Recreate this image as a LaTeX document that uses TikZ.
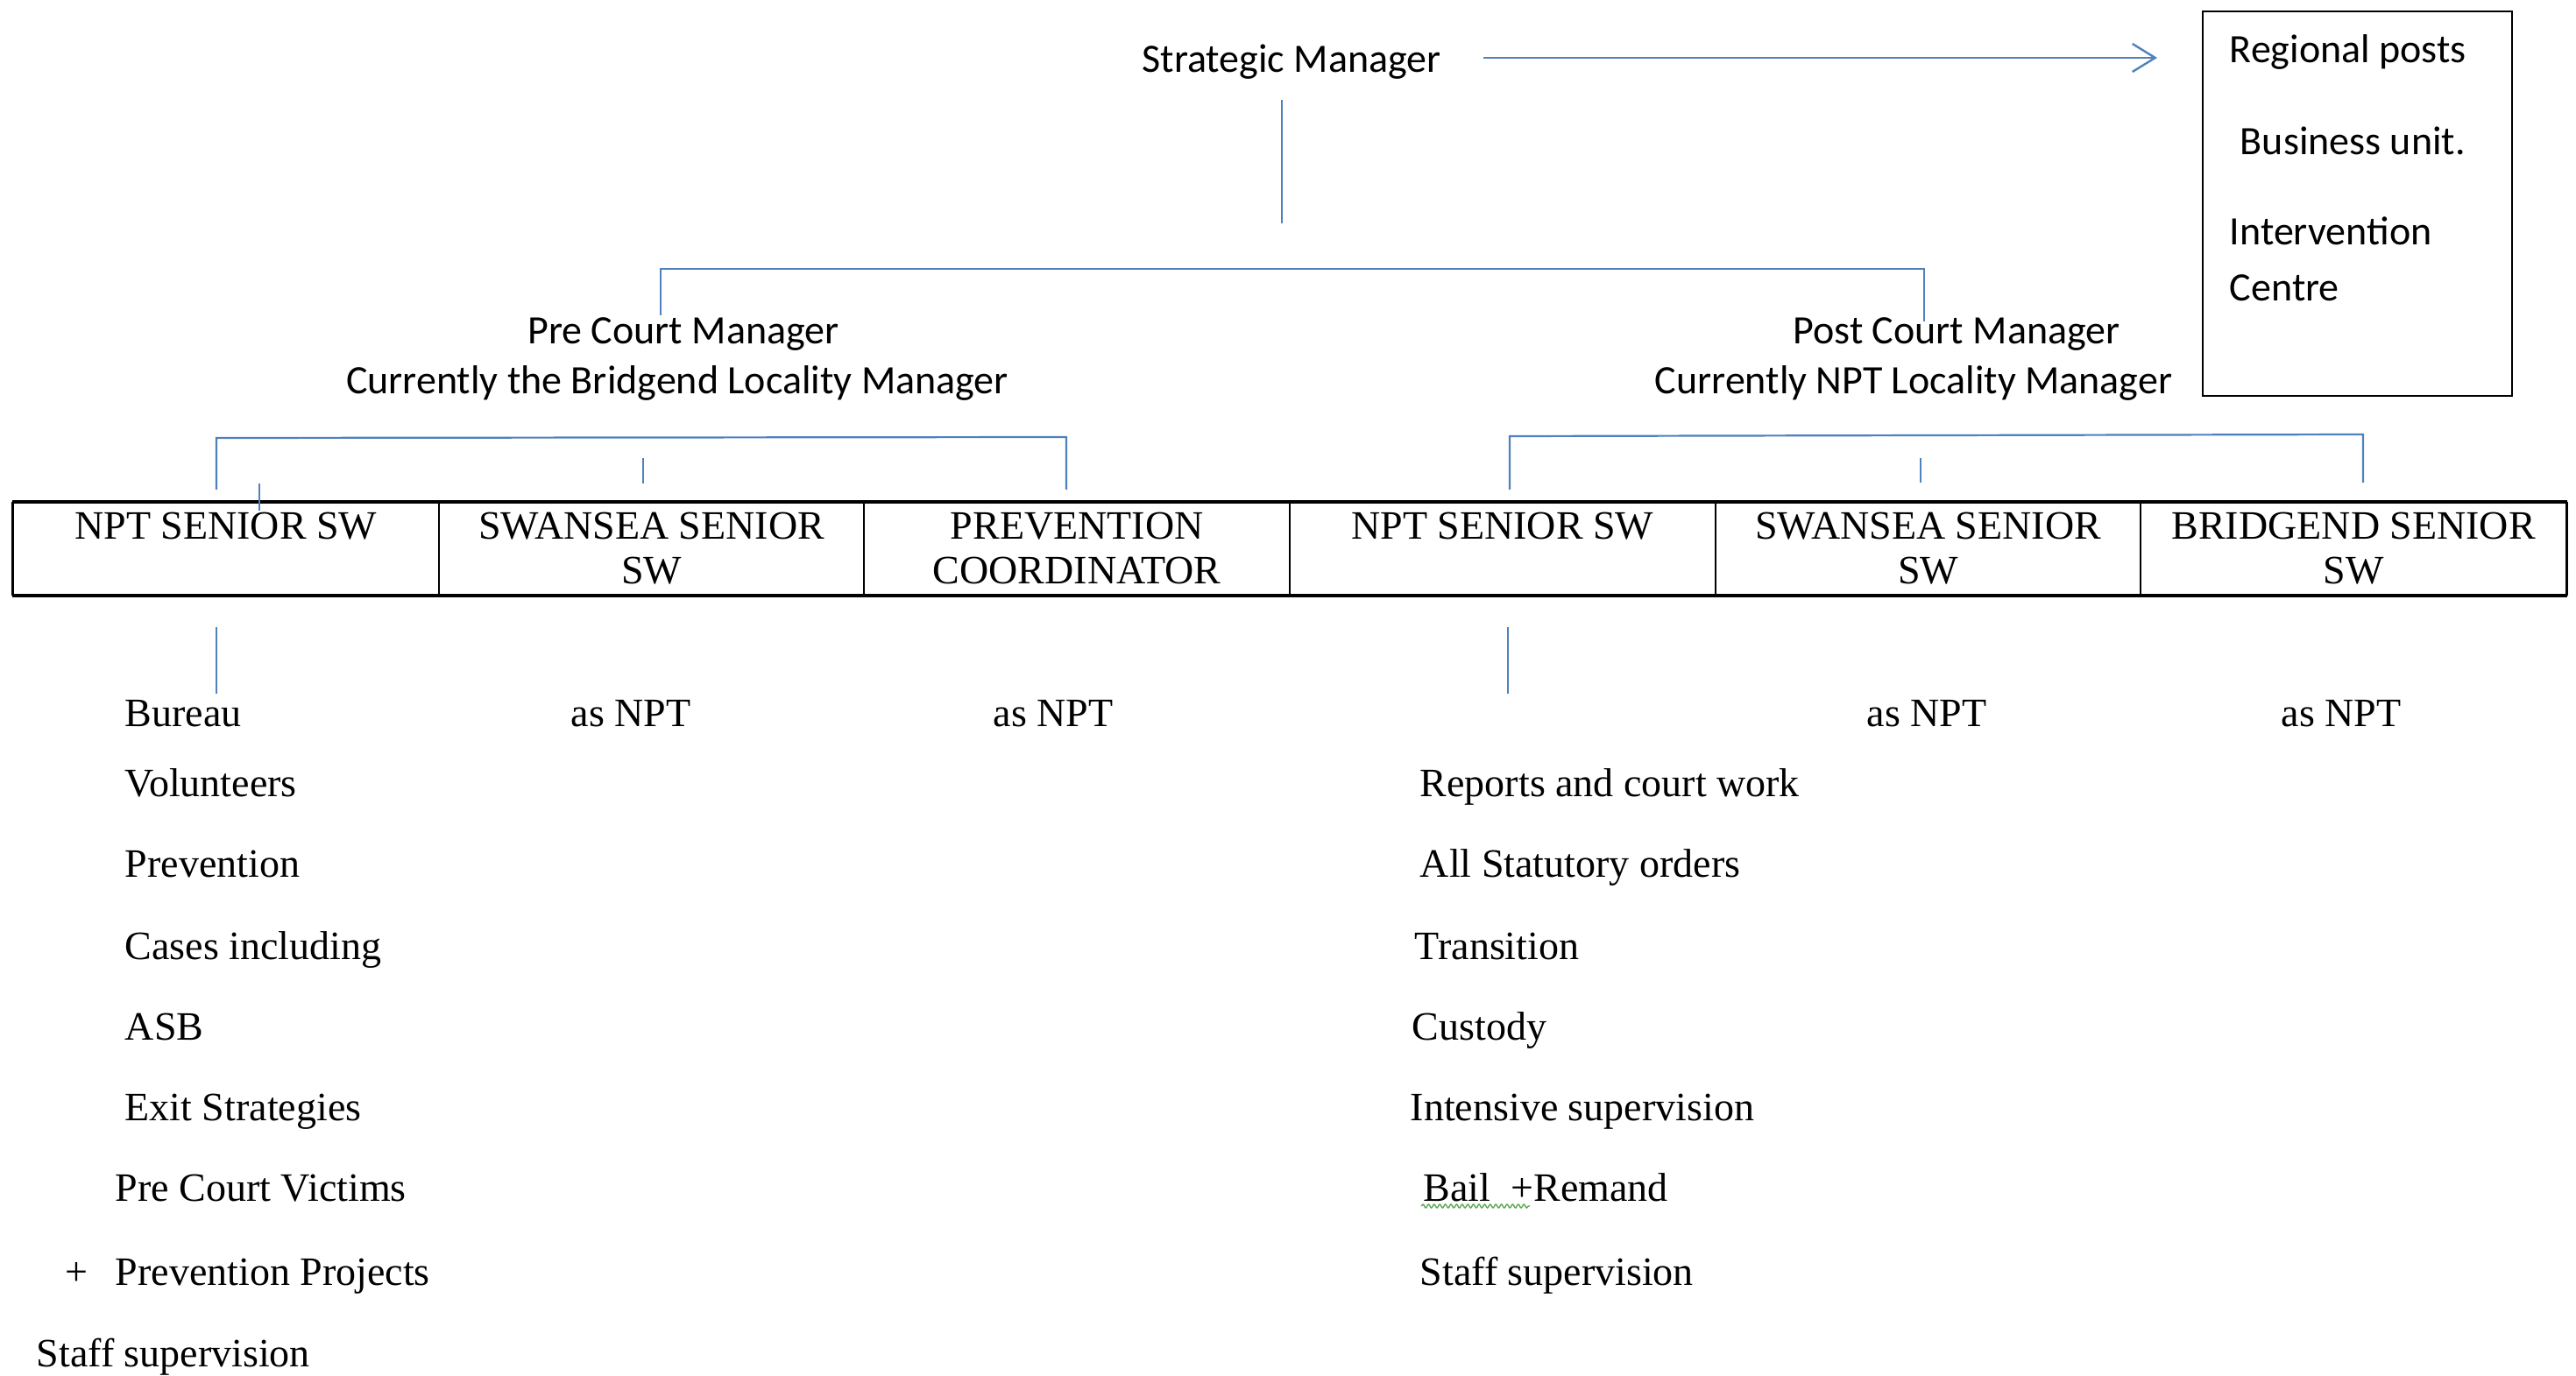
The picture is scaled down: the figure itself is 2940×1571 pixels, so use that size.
\documentclass[tikz,border=0pt]{standalone}
\usepackage{fontspec}
\setmainfont{Liberation Serif}
\newfontfamily\calibri{Carlito}
\usetikzlibrary{arrows.meta,decorations.pathmorphing}
\definecolor{linkblue}{RGB}{79,129,189}
\definecolor{squiggle}{RGB}{90,170,80}
\begin{document}
\begin{tikzpicture}[x=0.25pt,y=-0.25pt,
  link/.style={draw=linkblue,line width=0.55pt},
  sanslabel/.style={font=\calibri\fontsize{11.5}{14}\selectfont,inner sep=0pt},
  cell/.style={draw=black,line width=0.5pt,minimum width=121.42pt,minimum height=26.25pt,inner sep=0pt},
  celltext/.style={font=\fontsize{11.5}{12.75}\selectfont,align=center,anchor=north,inner sep=0pt},
  item/.style={font=\fontsize{11.5}{14}\selectfont,anchor=base west,inner sep=0pt},
  asnpt/.style={font=\fontsize{11.5}{14}\selectfont,anchor=base,inner sep=0pt},
]
\useasboundingbox[fill=white] (0,0) rectangle (2940,1571);

% ---- top level ----
\node[sanslabel,anchor=base] (sm) at (1474,83) {Strategic Manager};
\node[draw=black,line width=0.7pt,minimum width=88.25pt,minimum height=109.75pt,inner sep=0pt] (regional) at (2690.5,232.5) {};
\node[sanslabel,anchor=base west] (rp) at (2544,72) {Regional posts};
\node[sanslabel,anchor=base west] (bu) at (2556,177) {Business unit.};
\node[sanslabel,anchor=base west] (iv) at (2544,280) {Intervention};
\node[sanslabel,anchor=base west] (ce) at (2544,344) {Centre};

\coordinate (arrowfrom) at (1693,66);
\coordinate (arrowto) at (2462,66);
\draw[link,line width=0.6pt,-{Straight Barb[length=6.5pt,width=8pt,line width=0.6pt]}] (arrowfrom) -- (arrowto);

% ---- managers ----
\node[sanslabel,anchor=base] (pre) at (780,393) {Pre Court Manager};
\node[sanslabel,anchor=base] (pre2) at (773,450) {Currently the Bridgend Locality Manager};
\node[sanslabel,anchor=base] (post) at (2233,393) {Post Court Manager};
\node[sanslabel,anchor=base] (post2) at (2184,450) {Currently NPT Locality Manager};

\coordinate (smdrop) at (1463,114);
\coordinate (smdropend) at (1463,255);
\draw[link] (smdrop) -- (smdropend);

\coordinate (barL) at (754,307);
\coordinate (barR) at (2196,307);
\coordinate (preTop) at (754,360);
\coordinate (postTop) at (2196,367);
\draw[link] (preTop) -- (barL) -- (barR) -- (postTop);

% ---- senior social worker row ----
\foreach \i/\cx in {1/257.8,2/743.5,3/1229.2,4/1714.8,5/2200.5,6/2686.2}{
  \node[cell] (c\i) at (\cx,626.5) {};
}
\draw[black,line width=0.9pt] (c1.north west) -- (c6.north east);
\draw[black,line width=0.9pt] (c1.south west) -- (c6.south east);
\draw[black,line width=0.7pt] (c1.north west) -- (c1.south west);
\draw[black,line width=0.7pt] (c6.north east) -- (c6.south east);

\node[celltext] (t1) at (c1.center |- 0,584) {NPT SENIOR SW};
\node[celltext] (t2) at (c2.center |- 0,584) {SWANSEA SENIOR\\SW};
\node[celltext] (t3) at (c3.center |- 0,584) {PREVENTION\\COORDINATOR};
\node[celltext] (t4) at (c4.center |- 0,584) {NPT SENIOR SW};
\node[celltext] (t5) at (c5.center |- 0,584) {SWANSEA SENIOR\\SW};
\node[celltext] (t6) at (c6.center |- 0,584) {BRIDGEND SENIOR\\SW};

% pre court branch
\coordinate (lbarL) at (247,500);
\coordinate (lbarR) at (1217,499);
\coordinate (lbarLdown) at (247,559);
\coordinate (lbarRdown) at (1217,559);
\draw[link] (lbarLdown) -- (lbarL) -- (lbarR) -- (lbarRdown);
\coordinate (lmidA) at (734,523);
\coordinate (lmidB) at (734,552);
\draw[link] (lmidA) -- (lmidB);
\coordinate (lstrayA) at (296,552);
\coordinate (lstrayB) at (296,583);
\draw[link] (lstrayA) -- (lstrayB);

% post court branch
\coordinate (rbarL) at (1723,498);
\coordinate (rbarR) at (2697,496);
\coordinate (rbarLdown) at (1723,559);
\coordinate (rbarRdown) at (2697,551);
\draw[link] (rbarLdown) -- (rbarL) -- (rbarR) -- (rbarRdown);
\coordinate (rmidA) at (2192,523);
\coordinate (rmidB) at (2192,551);
\draw[link] (rmidA) -- (rmidB);

% stubs below the row
\coordinate (ldropA) at (247,716);
\coordinate (ldropB) at (247,792);
\draw[link] (ldropA) -- (ldropB);
\coordinate (rdropA) at (1721,716);
\coordinate (rdropB) at (1721,792);
\draw[link] (rdropA) -- (rdropB);

% ---- duties ----
\node[asnpt] (as2) at (720,829) {as NPT};
\node[asnpt] (as3) at (1202,829) {as NPT};
\node[asnpt] (as5) at (2199,829) {as NPT};
\node[asnpt] (as6) at (2672,829) {as NPT};

\node[item] (l1) at (142,829) {Bureau};
\node[item] (l2) at (142,909) {Volunteers};
\node[item] (l3) at (142,1001) {Prevention};
\node[item] (l4) at (142,1095) {Cases including};
\node[item] (l5) at (142,1187) {ASB};
\node[item] (l6) at (142,1279) {Exit Strategies};
\node[item] (l7) at (131,1371) {Pre Court Victims};
\node[item] (lplus) at (74,1467) {+};
\node[item] (l8) at (131,1467) {Prevention Projects};
\node[item] (l9) at (41,1560) {Staff supervision};

\node[item] (r1) at (1620,909) {Reports and court work};
\node[item] (r2) at (1620,1001) {All Statutory orders};
\node[item] (r3) at (1614,1095) {Transition};
\node[item] (r4) at (1611,1187) {Custody};
\node[item] (r5) at (1609,1279) {Intensive supervision};
\node[item] (r6) at (1624,1371) {Bail\ \ +Remand};
\node[item] (r7) at (1620,1467) {Staff supervision};

\coordinate (sqA) at (1622,1377);
\coordinate (sqB) at (1746,1377);
\draw[squiggle,line width=0.35pt,decorate,decoration={snake,amplitude=0.5pt,segment length=1.6pt}] (sqA) -- (sqB);
\end{tikzpicture}
\end{document}
